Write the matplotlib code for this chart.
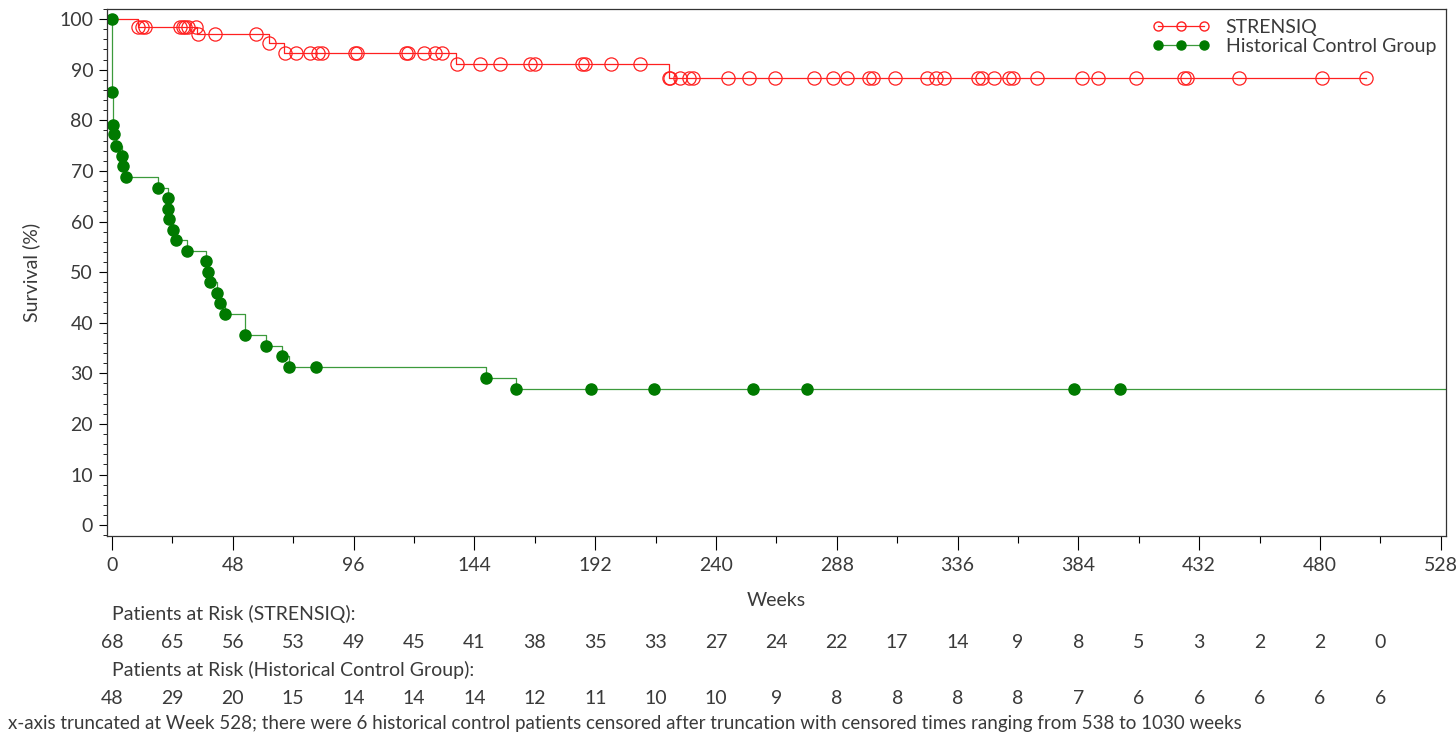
import numpy as np
import matplotlib.pyplot as plt
from matplotlib.lines import Line2D
from matplotlib.ticker import MultipleLocator
from matplotlib.transforms import blended_transform_factory

plt.rcParams['font.family'] = ['Lato', 'DejaVu Sans']

# STRENSIQ: step times / survival, and censor times
str_times = [0, 10.3, 33.7, 62.2, 68.5, 136.8, 221.2]
str_surv = [100, 98.5, 97.0, 95.2, 93.4, 91.2, 88.4]
str_censor = [10.5, 11.8, 13.1, 27.0, 28.1, 29.0, 30.3, 33.4, 34.2, 41.0, 57.3,
              62.5, 68.8, 73.2, 78.5, 82.0, 83.4, 96.6, 97.3, 116.9, 117.8, 124.0,
              128.2, 131.1, 137.0, 146.2, 154.0, 166.2, 168.2, 186.8, 188.1, 198.3,
              209.9, 221.4, 221.9, 225.6, 229.2, 230.9, 244.8, 253.3, 263.3, 279.1,
              286.4, 292.1, 300.7, 302.5, 311.3, 324.0, 327.3, 330.6, 344.1, 345.5,
              350.3, 356.4, 358.2, 367.6, 385.3, 391.9, 406.7, 425.9, 427.3, 448.0,
              480.9, 498.1]

# Historical control group
hcg_times = [0, 0.15, 0.3, 0.8, 1.5, 3.9, 4.5, 5.4, 18.4, 22.1, 22.4, 22.7, 24.1,
             25.4, 29.9, 37.4, 38.0, 39.0, 41.6, 42.7, 44.9, 52.9, 61.1, 67.5,
             70.5, 148.6, 160.5]
hcg_surv = [100, 85.5, 79.1, 77.2, 75.0, 73.0, 70.9, 68.8, 66.7, 64.6, 62.5, 60.4,
            58.4, 56.3, 54.2, 52.2, 50.1, 48.0, 45.9, 43.8, 41.7, 37.6, 35.4, 33.5,
            31.2, 29.1, 26.9]
hcg_censor = [81.0, 190.3, 215.5, 254.5, 276.3, 382.1, 400.4]

risk_weeks = list(range(0, 505, 24))
risk_str = [68, 65, 56, 53, 49, 45, 41, 38, 35, 33, 27, 24, 22, 17, 14, 9, 8, 5, 3, 2, 2, 0]
risk_hcg = [48, 29, 20, 15, 14, 14, 14, 12, 11, 10, 10, 9, 8, 8, 8, 8, 7, 6, 6, 6, 6, 6]

red = '#ff2020'
green = '#007a00'
txt = '#3a3a3a'
fs = 14


def surv_at(t, times, surv):
    idx = np.searchsorted(times, t, side='right') - 1
    return np.array(surv)[idx]


fig = plt.figure(figsize=(14.56, 7.5), dpi=100)
ax = fig.add_axes([0.0735, 0.285, 0.9195, 0.703])

# STRENSIQ curve
ax.step(str_times + [str_censor[-1]], str_surv + [str_surv[-1]], where='post',
        color=red, lw=0.9)
ax.plot(str_censor, surv_at(str_censor, str_times, str_surv), 'o', ms=9.5,
        mfc='none', mec=red, mew=0.9)

# Historical control curve
ax.step(hcg_times + [560], hcg_surv + [hcg_surv[-1]], where='post',
        color='#3c9a3c', lw=0.9)
ax.plot(hcg_times, hcg_surv, 'o', ms=8, color=green)
ax.plot(hcg_censor, surv_at(hcg_censor, hcg_times, hcg_surv), 'o', ms=8, color=green)

ax.set_xlim(-2, 530)
ax.set_ylim(-2.2, 102)
ax.xaxis.set_major_locator(MultipleLocator(48))
ax.xaxis.set_minor_locator(MultipleLocator(24))
ax.yaxis.set_major_locator(MultipleLocator(10))
ax.yaxis.set_minor_locator(MultipleLocator(2))
ax.tick_params(axis='x', which='major', length=10, width=0.8, pad=5,
               labelsize=fs, labelcolor=txt)
ax.tick_params(axis='x', which='minor', length=5, width=0.8)
ax.tick_params(axis='y', which='major', length=6, width=0.8, pad=4,
               labelsize=fs, labelcolor=txt)
ax.tick_params(axis='y', which='minor', length=3, width=0.6)
for s in ax.spines.values():
    s.set_linewidth(0.9)
    s.set_color('#333333')

ax.set_ylabel('Survival (%)', fontsize=fs, color=txt, labelpad=14)
fig.text(0.533, 0.199, 'Weeks', fontsize=fs, color=txt, ha='center', va='center')

handles = [Line2D([], [], color=red, lw=0.9, marker='o', ms=6.5, mfc='none', mec=red),
           Line2D([], [], color='#3c9a3c', lw=0.9, marker='o', ms=6.5, mfc=green, mec=green)]
ax.legend(handles, ['STRENSIQ', 'Historical Control Group'], loc='upper right',
          numpoints=3, frameon=False, fontsize=fs, handlelength=3.0,
          handletextpad=0.8, labelspacing=0.1, borderaxespad=0.1,
          labelcolor=txt)

# Patients at risk table
tr = blended_transform_factory(ax.transData, fig.transFigure)
fig.text(112 / 1456, 0.181, 'Patients at Risk (STRENSIQ):', fontsize=fs,
         color=txt, va='center')
for w, n in zip(risk_weeks, risk_str):
    ax.text(w, 0.144, str(n), transform=tr, ha='center', va='center',
            fontsize=fs, color=txt, clip_on=False)
fig.text(112 / 1456, 0.107, 'Patients at Risk (Historical Control Group):',
         fontsize=fs, color=txt, va='center')
for w, n in zip(risk_weeks, risk_hcg):
    ax.text(w, 0.069, str(n), transform=tr, ha='center', va='center',
            fontsize=fs, color=txt, clip_on=False)

fig.text(8 / 1456, 0.035,
         'x-axis truncated at Week 528; there were 6 historical control patients '
         'censored after truncation with censored times ranging from 538 to 1030 weeks',
         fontsize=13.5, color=txt, va='center')

fig.savefig('out.png', dpi=100)
